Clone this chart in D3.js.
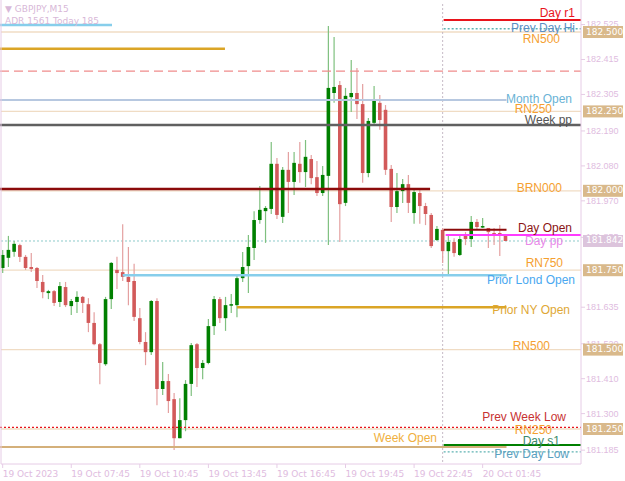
<!DOCTYPE html>
<html>
<head>
<meta charset="utf-8">
<script src="https://cdn.jsdelivr.net/npm/d3@7.9.0/dist/d3.min.js"></script>
<style>
  body { margin: 0; background: #fff; }
  svg { display: block; font-family: "DejaVu Sans", sans-serif; }
</style>
</head>
<body>
<svg id="chart" width="625" height="481"></svg>
<script>
// OHLC of GBPJPY M15 bars
const opens = [181.757,181.789,181.808,181.829,181.792,181.760,181.757,181.713,181.678,181.684,
  181.650,181.697,181.637,181.650,181.666,181.643,181.584,181.517,181.454,181.659,
  181.751,181.744,181.729,181.716,181.599,181.524,181.492,181.653,181.376,181.401,
  181.344,181.221,181.278,181.392,181.517,181.442,181.458,181.574,181.659,181.599,
  181.640,181.640,181.725,181.763,181.820,181.908,181.936,181.943,182.085,181.918,
  182.066,182.028,182.085,182.059,182.100,182.043,181.993,182.047,182.308,182.333,
  181.962,182.295,182.308,182.273,182.056,182.214,182.277,182.255,182.069,181.949,
  181.999,182.021,181.930,181.993,181.952,181.924,181.845,181.877,181.810,181.839,
  181.798,181.864,181.848,181.902,181.886,181.883,181.867,181.867,181.861];
const highs = [181.814,181.858,181.842,181.833,181.798,181.804,181.760,181.735,181.688,181.688,
  181.713,181.713,181.659,181.684,181.669,181.662,181.618,181.521,181.666,181.776,
  181.792,181.895,181.823,181.770,181.631,181.555,181.656,181.662,181.461,181.423,
  181.363,181.347,181.404,181.521,181.521,181.467,181.596,181.669,181.666,181.666,
  181.675,181.735,181.807,181.861,181.936,182.015,181.952,182.154,182.103,182.075,
  182.122,182.122,182.154,182.160,182.113,182.094,182.078,182.519,182.484,182.346,
  182.324,182.412,182.387,182.336,182.229,182.330,182.302,182.270,182.081,182.056,
  182.037,182.050,182.006,182.009,181.962,181.930,181.889,181.883,181.861,181.851,
  181.858,181.870,181.921,181.911,181.914,181.883,181.883,181.892,181.864];
const lows = [181.741,181.760,181.792,181.776,181.751,181.744,181.694,181.662,181.659,181.637,
  181.634,181.634,181.609,181.615,181.615,181.555,181.514,181.391,181.449,181.628,
  181.691,181.716,181.640,181.590,181.517,181.451,181.483,181.325,181.357,181.300,
  181.184,181.221,181.243,181.354,181.382,181.407,181.454,181.546,181.584,181.559,
  181.615,181.602,181.713,181.678,181.782,181.896,181.836,181.927,181.911,181.899,
  181.930,181.987,182.025,182.012,182.021,181.984,181.984,181.829,182.277,181.839,
  181.952,182.248,182.226,182.025,182.043,182.207,182.192,182.050,181.902,181.930,
  181.962,181.930,181.896,181.896,181.892,181.820,181.842,181.773,181.738,181.792,
  181.795,181.829,181.823,181.877,181.883,181.820,181.829,181.795,181.842];
const closes = [181.798,181.814,181.833,181.792,181.757,181.754,181.716,181.681,181.684,181.647,
  181.700,181.640,181.653,181.666,181.647,181.584,181.517,181.458,181.659,181.773,
  181.741,181.729,181.713,181.603,181.524,181.492,181.653,181.376,181.401,181.338,
  181.221,181.278,181.392,181.514,181.442,181.458,181.574,181.659,181.599,181.640,
  181.643,181.725,181.760,181.823,181.908,181.940,181.946,182.085,181.924,182.066,
  182.028,182.088,182.059,182.107,182.040,181.993,182.050,182.324,182.327,181.958,
  182.299,182.308,182.273,182.056,182.220,182.286,182.223,182.066,181.949,181.999,
  182.021,181.962,181.996,181.952,181.927,181.826,181.880,181.810,181.839,181.804,
  181.848,181.848,181.902,181.886,181.889,181.870,181.858,181.858,181.842];

// price axis
const priceTicks = [182.525,182.415,182.305,182.190,182.080,181.970,181.855,181.635,181.520,181.410,181.300,181.185];
const roundNumbers = [182.500,182.250,182.000,181.750,181.500,181.250];
const lastPrice = 181.842;

// time axis
const timeLabels = ["19 Oct 2023","19 Oct 07:45","19 Oct 10:45","19 Oct 13:45","19 Oct 16:45","19 Oct 19:45","19 Oct 22:45","20 Oct 01:45"];
const timeLabelBars = [0,12,24,36,48,60,72,84];
const dayStartBar = 77;

// indicator levels
const levelNames  = ["Day r1","Prev Day Hi","ADR","Upper","Dash","Month Open","Week pp","BRN line","Day Open","Day pp","Prior Lond Open","Prior NY Open","Prev Week Low","Week Open","Day s1","Prev Day Low"];
const levelPrices = [182.538,182.510,182.522,182.447,182.377,182.286,182.207,182.006,181.877,181.861,181.734,181.633,181.255,181.193,181.200,181.178];
const rnLabels = ["RN500","RN250","BRN000","RN750","RN500","RN250"];

const W = 625, H = 481;
const plot = { left: 1, right: 581, top: 0, bottom: 464 };
const svg = d3.select('#chart');

const x = d3.scaleLinear().domain([0, 88]).range([2.7, 505.5]);
const y = d3.scaleLinear().domain([181.1398, 182.6008]).range([plot.bottom, plot.top]);

// style of each level: [x0, x1, colour, width, dash, label colour, label x, label dy]
const R = plot.right, E = x(88) + 1, D = x(dayStartBar) + 1;
const styles = {
  "Day r1":          [D, R, "#e8141c", 2, null, "#e8141c", 575, -6],
  "Prev Day Hi":     [D, R, "#5fb3b3", 1.5, "2,2", "#5b8fc4", 575, 0],
  "ADR":             [0, 112, "#87ceeb", 2.5, null, null],
  "Upper":           [0, x(38.9), "#dba526", 2.5, null, null],
  "Dash":            [0, R, "#f08c8c", 1.3, "9,5", null],
  "Month Open":      [0, E, "#b7c8e0", 2, null, "#6ab3d6", 572, 0],
  "Week pp":         [0, R, "#606060", 2.5, null, "#555555", 572, -4],
  "BRN line":        [0, x(74.8), "#8b0b0b", 2.5, null, null],
  "Day Open":        [D, E, "#8b0b0b", 2, null, "#8b1515", 572, -1],
  "Day pp":          [D + 2, R, "#ff3cff", 2, null, "#e88ae8", 563, 7],
  "Prior Lond Open": [x(21), E, "#87ceeb", 2.5, null, "#4aa8f0", 575, 6],
  "Prior NY Open":   [x(41), E, "#dba526", 2.5, null, "#e0a835", 570, 3],
  "Prev Week Low":   [0, R, "#e8141c", 1.2, "2,2", "#c83232", 566, -10],
  "Week Open":       [0, E, "#d4b07a", 2, null, "#f0b040", 437, -8],
  "Day s1":          [D, R, "#008000", 2, null, "#3a8a6a", 560, -3],
  "Prev Day Low":    [D, R, "#5fb3b3", 1.2, "2,2", "#5aa0c0", 569, 3]
};

// round-number lines (thin tan)
svg.append('g').selectAll('line').data(roundNumbers).join('line')
  .attr('x1', plot.left).attr('x2', R)
  .attr('y1', d => y(d)).attr('y2', d => y(d))
  .attr('stroke', '#f0dcc4').attr('stroke-width', 1.3);

// current price dotted line
svg.append('line').attr('x1', plot.left).attr('x2', R)
  .attr('y1', y(lastPrice)).attr('y2', y(lastPrice))
  .attr('stroke', '#8ccaca').attr('stroke-width', 1).attr('stroke-dasharray', '2,2');

// day separator
svg.append('line').attr('x1', D - 1).attr('x2', D - 1)
  .attr('y1', plot.top + 4).attr('y2', plot.bottom)
  .attr('stroke', '#b8a8b8').attr('stroke-width', 0.8).attr('stroke-dasharray', '2,2');

// candles
const bars = d3.range(opens.length);
const up = i => closes[i] >= opens[i];
const cg = svg.append('g');
cg.selectAll('line.wick').data(bars).join('line')
  .attr('x1', i => x(i)).attr('x2', i => x(i))
  .attr('y1', i => y(highs[i])).attr('y2', i => y(lows[i]))
  .attr('stroke', i => up(i) ? '#7fc07f' : '#e4a0a0').attr('stroke-width', 1.2);
cg.selectAll('rect').data(bars).join('rect')
  .attr('x', i => x(i) - 1.8).attr('width', 3.6)
  .attr('y', i => y(Math.max(opens[i], closes[i])))
  .attr('height', i => Math.max(1.5, Math.abs(y(opens[i]) - y(closes[i]))))
  .attr('fill', i => up(i) ? '#008000' : '#d25a5a');

// indicator levels
const lg = svg.append('g');
levelNames.forEach((n, k) => {
  const s = styles[n], py = y(levelPrices[k]);
  lg.append('line').attr('x1', s[0]).attr('x2', s[1]).attr('y1', py).attr('y2', py)
    .attr('stroke', s[2]).attr('stroke-width', s[3]).attr('stroke-dasharray', s[4]);
});
const labelText = { "BRN line": null, "ADR": null, "Upper": null, "Dash": null };
levelNames.forEach((n, k) => {
  const s = styles[n];
  if (!s[5]) return;
  lg.append('text').attr('x', s[6]).attr('y', y(levelPrices[k]) + s[7])
    .attr('text-anchor', 'end').attr('dominant-baseline', 'middle')
    .attr('font-family', 'Liberation Sans, Arial, sans-serif').attr('font-size', 12)
    .attr('fill', s[5]).text(n);
});
// round-number labels
const rnX = [560, 552, 562, 563, 550, 552], rnDy = [8, -2, -2, -6, -3, 2];
roundNumbers.forEach((p, k) => {
  lg.append('text').attr('x', rnX[k]).attr('y', y(p) + rnDy[k])
    .attr('text-anchor', 'end').attr('dominant-baseline', 'middle')
    .attr('font-family', 'Liberation Sans, Arial, sans-serif').attr('font-size', 12)
    .attr('fill', '#f5a030').text(rnLabels[k]);
});

// frame
svg.append('line').attr('x1', R).attr('x2', R).attr('y1', 0).attr('y2', plot.bottom).attr('stroke', '#e6cce6');
svg.append('line').attr('x1', plot.left).attr('x2', R).attr('y1', plot.bottom).attr('y2', plot.bottom).attr('stroke', '#e6cce6');
svg.append('line').attr('x1', plot.left).attr('x2', plot.left).attr('y1', 0).attr('y2', plot.bottom).attr('stroke', '#e6cce6');

// right price axis
const yAxis = d3.axisRight(y).tickValues(priceTicks).tickSize(4).tickFormat(d3.format('.3f'));
const ya = svg.append('g').attr('transform', `translate(${R},0)`).call(yAxis);
ya.select('.domain').remove();
ya.selectAll('line').attr('stroke', '#e6cce6');
ya.selectAll('text').attr('fill', '#e0bce0').attr('font-size', 9).attr('x', 5);

const boxes = roundNumbers.map(p => ({ p, c: '#d9b98b' })).concat([{ p: lastPrice, c: '#dcc4dc' }]);
const bg = svg.append('g');
bg.selectAll('rect').data(boxes).join('rect')
  .attr('x', R + 2).attr('width', 40).attr('y', d => y(d.p) - 6).attr('height', 12).attr('fill', d => d.c);
bg.selectAll('text').data(boxes).join('text')
  .attr('x', R + 5).attr('y', d => y(d.p)).attr('dominant-baseline', 'middle')
  .attr('font-size', 9).attr('fill', '#fff').text(d => d.p.toFixed(3));

// bottom time axis
const tg = svg.append('g');
timeLabelBars.forEach((b, k) => {
  tg.append('line').attr('x1', x(b)).attr('x2', x(b)).attr('y1', plot.bottom).attr('y2', plot.bottom + 4).attr('stroke', '#e6cce6');
  tg.append('text').attr('x', x(b)).attr('y', plot.bottom + 13)
    .attr('font-size', 9).attr('fill', '#e0bce0').text(timeLabels[k]);
});

// header
svg.append('text').attr('x', 5).attr('y', 12).attr('font-size', 9).attr('fill', '#d8b8d8').text('\u25BC GBPJPY,M15');
svg.append('text').attr('x', 5).attr('y', 24).attr('font-size', 9).attr('fill', '#d8b8d8').text('ADR 1561   Today 185');
</script>
</body>
</html>
